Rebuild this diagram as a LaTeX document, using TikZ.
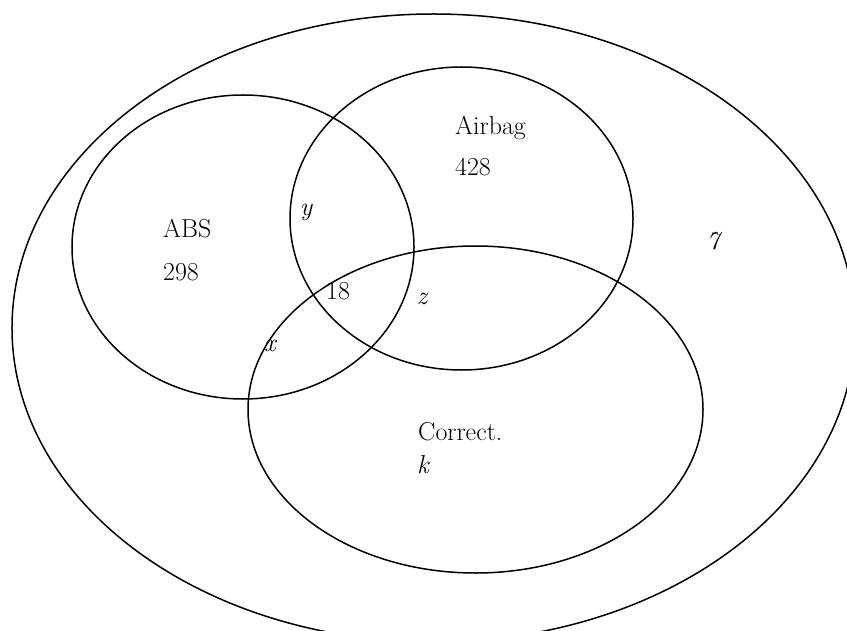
\documentclass[tikz,border=0pt]{standalone}
\usetikzlibrary{shapes.geometric}
\begin{document}
\begin{tikzpicture}[x=1bp,y=-1bp,
  setshape/.style={draw,ellipse,line width=1.5bp,inner sep=0pt},
  lbl/.style={font=\fontsize{26}{30}\selectfont,inner sep=0pt},
  var/.style={font=\fontsize{26}{30}\selectfont\itshape,inner sep=0pt}]
\useasboundingbox (0,0) rectangle (847,631);
\node[setshape,minimum width=843bp,minimum height=628bp] (U) at (433.5,328) {};
\node[setshape,minimum width=342bp,minimum height=304bp] (A) at (243,247) {};
\node[setshape,minimum width=343bp,minimum height=303bp] (B) at (461.5,218.5) {};
\node[setshape,minimum width=455bp,minimum height=327bp] (C) at (475.5,409.5) {};
\node[lbl,anchor=base west] (tA) at (163,238) {ABS};
\node[lbl,anchor=base west] (nA) at (163,280) {298};
\node[lbl,anchor=base west] (tB) at (455,135) {Airbag};
\node[lbl,anchor=base west] (nB) at (455,176) {428};
\node[lbl,anchor=base west] (tC) at (418,440) {Correct.};
\node[var] (k) at (423,465) {k};
\node[lbl] (n18) at (338,291) {18};
\node[var] (y) at (306,212) {y};
\node[var] (z) at (422,299) {z};
\node[var] (x) at (270,346) {x};
\node[var] (seven) at (713,241) {7};
\end{tikzpicture}
\end{document}
